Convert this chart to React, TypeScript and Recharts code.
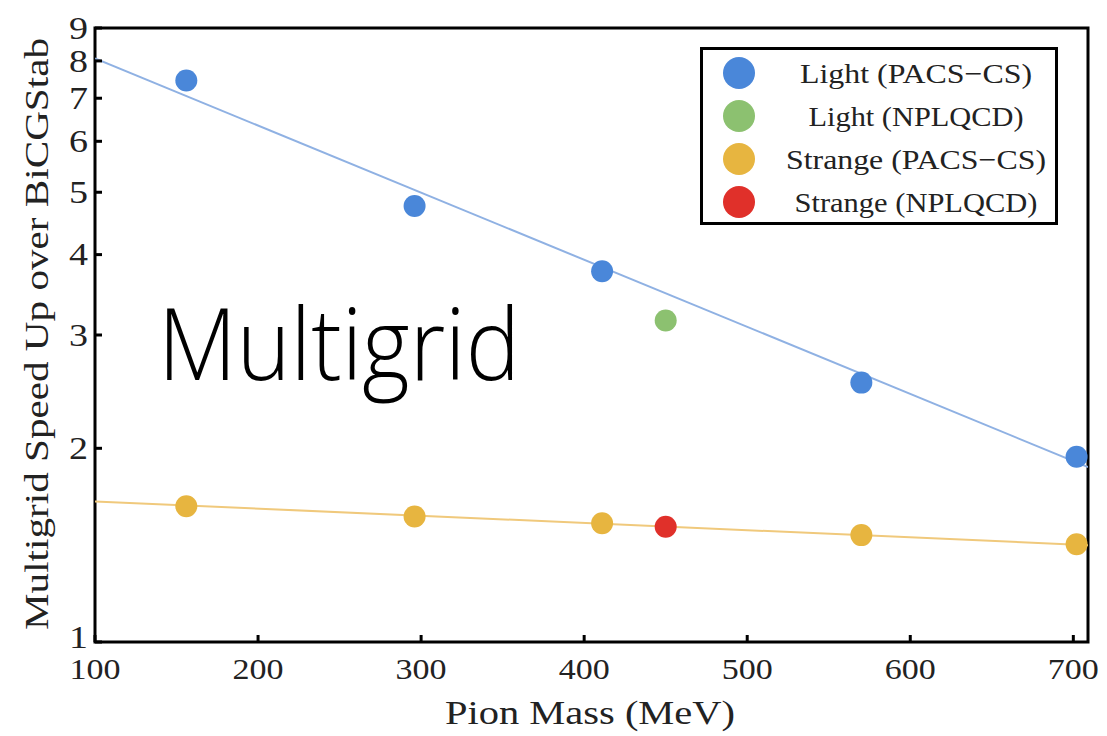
import React from "react";
import {
  ComposedChart,
  Scatter,
  XAxis,
  YAxis,
  ReferenceArea,
  Legend,
  Customized,
} from "recharts";

// Pion mass (MeV) and multigrid speed-up over BiCGStab
const lightPacsMass = [156, 296, 411, 570, 702];
const lightPacsSpeed = [7.46, 4.76, 3.77, 2.53, 1.94];
const lightNplMass = [450];
const lightNplSpeed = [3.16];
const strangePacsMass = [156, 296, 411, 570, 702];
const strangePacsSpeed = [1.625, 1.567, 1.53, 1.466, 1.419];
const strangeNplMass = [450];
const strangeNplSpeed = [1.51];

// fit lines read at the frame edges
const lightFitMass = [100, 709];
const lightFitSpeed = [8.07, 1.87];
const strangeFitMass = [100, 709];
const strangeFitSpeed = [1.654, 1.414];

const seriesNames = ["Light (PACS−CS)", "Light (NPLQCD)", "Strange (PACS−CS)", "Strange (NPLQCD)"];
const xTicks = [100, 200, 300, 400, 500, 600, 700];
const yTicks = [1, 2, 3, 4, 5, 6, 7, 8, 9];

const BLUE = "#4a87d9";
const GREEN = "#8cc170";
const ORANGE = "#e7b540";
const RED = "#e0302a";

const SERIF = "'Liberation Serif', 'Times New Roman', serif";
const PLOT_LEFT = 95;
const PLOT_BOTTOM = 642;

const zip = (xs: number[], ys: number[]) => xs.map((x, i) => ({ x, y: ys[i] }));

const dot = (color: string) => (p: any) => (
  <circle cx={p.cx} cy={p.cy} r={11} fill={color} />
);

const YTick = (props: any) => {
  const { y, payload } = props;
  // the "1" label sits a little high, as in the original
  const ty = payload.value === 1 ? y - 5 : y;
  return (
    <g>
      <line x1={PLOT_LEFT} x2={PLOT_LEFT + 7} y1={y} y2={y} stroke="#000" strokeWidth={3} />
      <text
        x={88}
        y={ty}
        dy="0.35em"
        textAnchor="end"
        fontFamily={SERIF}
        fontSize={31}
        fill="#222"
        textLength={19}
        lengthAdjust="spacingAndGlyphs"
      >
        {payload.value}
      </text>
    </g>
  );
};

const XTick = (props: any) => {
  const { x, payload } = props;
  return (
    <g>
      <line x1={x} x2={x} y1={PLOT_BOTTOM} y2={PLOT_BOTTOM - 7} stroke="#000" strokeWidth={3} />
      <text
        x={x}
        y={668}
        dy="0.35em"
        textAnchor="middle"
        fontFamily={SERIF}
        fontSize={30}
        fill="#222"
        textLength={String(payload.value).length * 17}
        lengthAdjust="spacingAndGlyphs"
      >
        {payload.value}
      </text>
    </g>
  );
};

const legendLengths = [232, 215, 260, 243];

const renderLegend = (props: any) => {
  const items = (props.payload || [])
    .filter((e: any) => seriesNames.includes(e.value))
    .sort((a: any, b: any) => seriesNames.indexOf(a.value) - seriesNames.indexOf(b.value));
  return (
    <svg width={358} height={178} style={{ display: "block" }}>
      <rect x={1.5} y={1.5} width={355} height={175} fill="#fff" stroke="#000" strokeWidth={3} />
      {items.map((e: any, i: number) => (
        <g key={e.value}>
          <circle cx={39} cy={26 + i * 43} r={16} fill={e.color} />
          <text
            x={216}
            y={26 + i * 43}
            dy="0.35em"
            textAnchor="middle"
            fontFamily={SERIF}
            fontSize={28}
            fill="#222"
            textLength={legendLengths[i]}
            lengthAdjust="spacingAndGlyphs"
          >
            {e.value}
          </text>
        </g>
      ))}
    </svg>
  );
};

const Annotations = () => (
  <g>
    <text
      x={590}
      y={712}
      dy="0.35em"
      textAnchor="middle"
      fontFamily={SERIF}
      fontSize={33}
      fill="#222"
      textLength={290}
      lengthAdjust="spacingAndGlyphs"
    >
      Pion Mass (MeV)
    </text>
    <text
      x={36}
      y={334}
      dy="0.35em"
      textAnchor="middle"
      transform="rotate(-90 36 334)"
      fontFamily={SERIF}
      fontSize={34}
      fill="#222"
      textLength={592}
      lengthAdjust="spacingAndGlyphs"
    >
      Multigrid Speed Up over BiCGStab
    </text>
    <text
      x={158}
      y={380}
      fontFamily="'Open Sans', Lato, sans-serif"
      fontWeight={300}
      fontSize={100}
      fill="#000"
      textLength={362}
      lengthAdjust="spacingAndGlyphs"
    >
      Multigrid
    </text>
  </g>
);

export default function App() {
  return (
    <div style={{ position: "absolute", left: 0, top: 0, background: "#fff" }}>
      <ComposedChart
        width={1107}
        height={736}
        margin={{ top: 28, right: 19, left: 0, bottom: 34 }}
      >
        <XAxis
          type="number"
          dataKey="x"
          domain={[100, 709]}
          ticks={xTicks}
          allowDataOverflow
          height={60}
          tickLine={false}
          axisLine={false}
          tick={<XTick />}
        />
        <YAxis
          type="number"
          dataKey="y"
          scale="log"
          domain={[1, 9]}
          ticks={yTicks}
          allowDataOverflow
          width={95}
          tickLine={false}
          axisLine={false}
          tick={<YTick />}
        />
        <ReferenceArea
          x1={100}
          x2={709}
          y1={1}
          y2={9}
          fill="none"
          stroke="#000"
          strokeWidth={3}
          ifOverflow="visible"
        />
        <Scatter
          name="light fit"
          data={zip(lightFitMass, lightFitSpeed)}
          line={{ stroke: "#8fb1e3", strokeWidth: 2 }}
          shape={() => <g />}
          legendType="none"
          isAnimationActive={false}
        />
        <Scatter
          name="strange fit"
          data={zip(strangeFitMass, strangeFitSpeed)}
          line={{ stroke: "#f0c97c", strokeWidth: 2 }}
          shape={() => <g />}
          legendType="none"
          isAnimationActive={false}
        />
        <Scatter
          name={seriesNames[0]}
          data={zip(lightPacsMass, lightPacsSpeed)}
          fill={BLUE}
          shape={dot(BLUE)}
          isAnimationActive={false}
        />
        <Scatter
          name={seriesNames[1]}
          data={zip(lightNplMass, lightNplSpeed)}
          fill={GREEN}
          shape={dot(GREEN)}
          isAnimationActive={false}
        />
        <Scatter
          name={seriesNames[2]}
          data={zip(strangePacsMass, strangePacsSpeed)}
          fill={ORANGE}
          shape={dot(ORANGE)}
          isAnimationActive={false}
        />
        <Scatter
          name={seriesNames[3]}
          data={zip(strangeNplMass, strangeNplSpeed)}
          fill={RED}
          shape={dot(RED)}
          isAnimationActive={false}
        />
        <Legend
          layout="vertical"
          align="center"
          verticalAlign="middle"
          content={renderLegend}
          wrapperStyle={{ position: "absolute", left: 700, top: 47, width: 358, height: 178 }}
        />
        <Customized component={Annotations} />
      </ComposedChart>
    </div>
  );
}
